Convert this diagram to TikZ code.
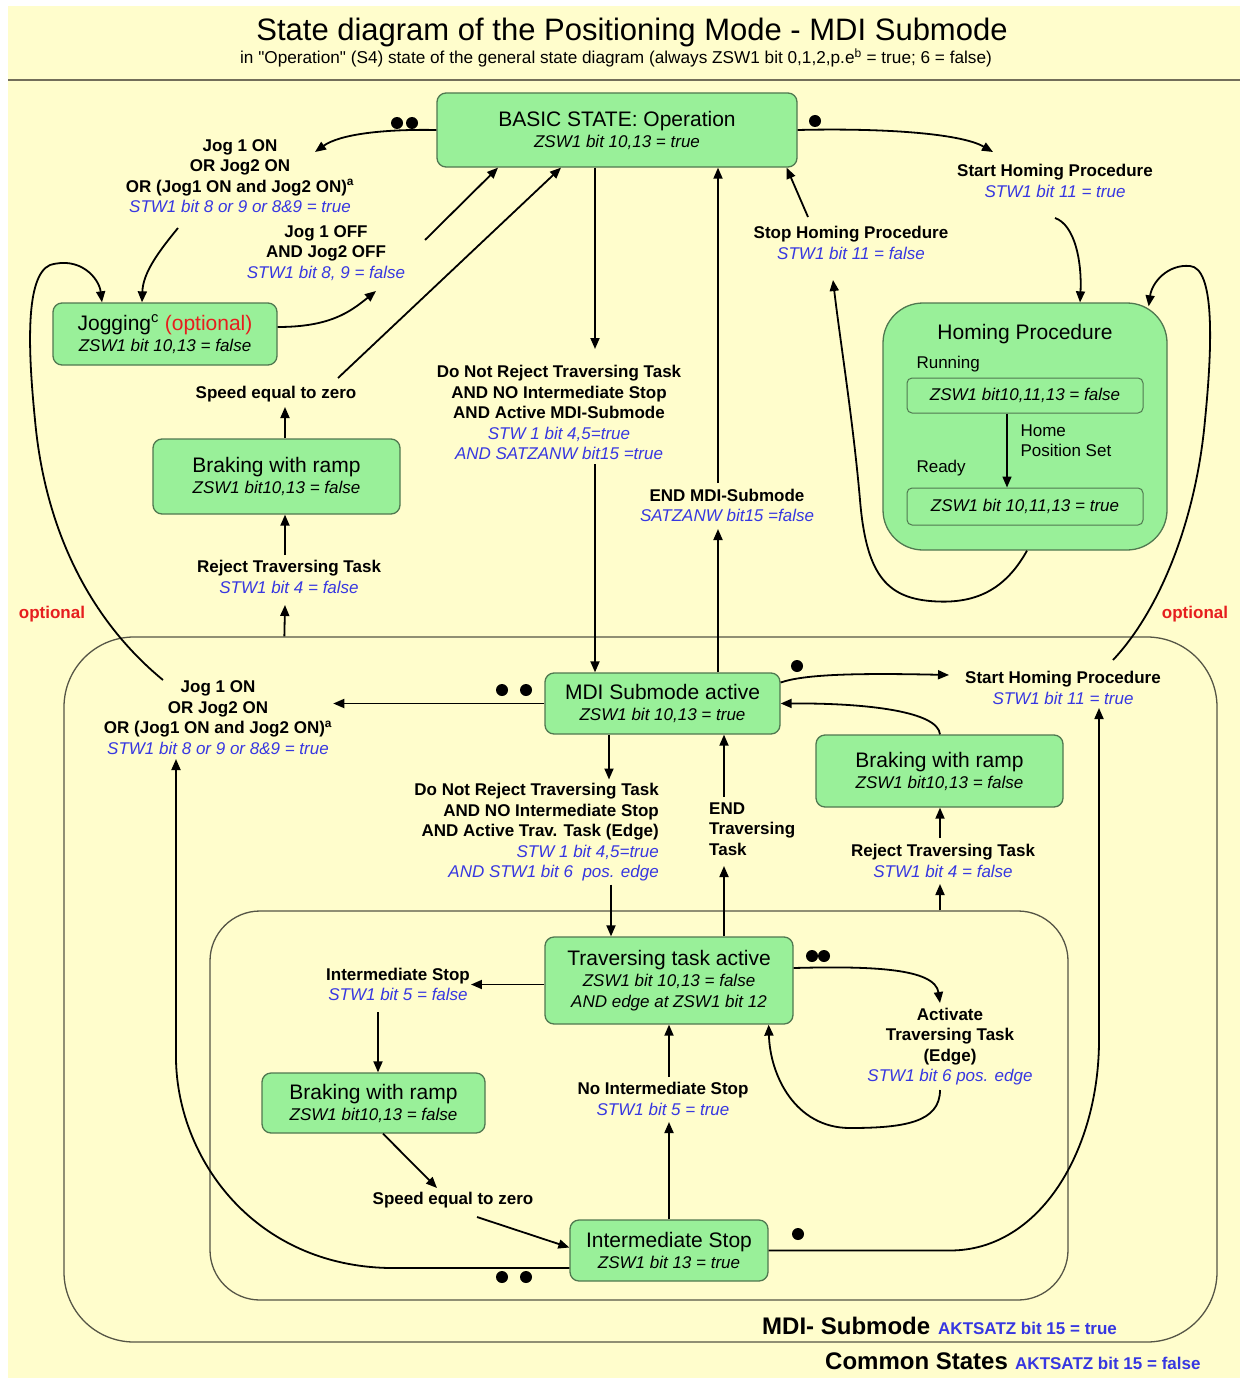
\documentclass[tikz,border=0pt]{standalone}
\usepackage{fontspec}
\setmainfont{Liberation Sans}
\usetikzlibrary{calc,arrows.meta}
\definecolor{bgyellow}{RGB}{255,253,204}
\definecolor{boxgreen}{RGB}{153,240,153}
\definecolor{boxline}{RGB}{80,120,80}
\definecolor{tblue}{RGB}{55,55,225}
\definecolor{tred}{RGB}{230,30,30}
\definecolor{contline}{RGB}{85,85,70}
\newcommand{\boxsub}[1]{{\itshape\fontsize{17}{17}\selectfont #1}}
\newcommand{\bl}[1]{{\color{tblue}\mdseries\itshape #1}}
\begin{document}
\begin{tikzpicture}[x=1pt,y=-1pt,
  st/.style={draw=boxline, fill=boxgreen, line width=1.3pt, rounded corners=9pt, align=center, inner sep=0pt, font=\fontsize{21}{21}\selectfont},
  lbl/.style={align=center, inner sep=1pt, font=\bfseries\fontsize{17}{20.5}\selectfont},
  arr/.style={-{Triangle[length=11pt,width=9pt]}, line width=1.8pt},
  dot/.style={circle, fill=black, inner sep=0pt, minimum size=12pt},
  cont/.style={draw=contline, line width=1.3pt},
]
\fill[white] (0,0) rectangle (1243,1378);
\fill[bgyellow] (8,6) rectangle (1240,1378);
\useasboundingbox (0,0) rectangle (1243,1378);
\draw[line width=2.5pt, color={rgb,255:red,115;green,110;blue,90}] (8,80) -- (1240,80);

% title
\node[font=\fontsize{31}{31}\selectfont] (title) at (632,32) {State diagram of the Positioning Mode - MDI Submode};
\node[font=\fontsize{17.2}{18}\selectfont] (subtitle) at (616,58) {in \textquotedbl Operation\textquotedbl\ (S4) state of the general state diagram (always ZSW1 bit 0,1,2,p.e\textsuperscript{b} = true; 6 = false)};

% containers
\node[cont, rounded corners=70pt, minimum width=1153pt, minimum height=705pt] (outer) at (640.5,989.5) {};
\node[cont, rounded corners=50pt, minimum width=858pt, minimum height=389pt] (inner) at (639,1105.5) {};

% states
\node[st, minimum width=360pt, minimum height=74pt] (basic) at (617,130) {BASIC STATE: Operation\\\boxsub{ZSW1 bit 10,13 = true}};
\node[st, minimum width=224pt, minimum height=62pt] (jog) at (165,334) {Jogging\textsuperscript{c} \textcolor{tred}{(optional)}\\\boxsub{ZSW1 bit 10,13 = false}};
\node[st, minimum width=247pt, minimum height=75pt] (brake1) at (276.5,476.5) {Braking with ramp\\\boxsub{ZSW1 bit10,13 = false}};
\node[st, rounded corners=40pt, minimum width=284pt, minimum height=247pt] (homing) at (1025,426.5) {};
\node[font=\fontsize{21}{21}\selectfont] (homtitle) at (1025,334) {Homing Procedure};
\node[st, rounded corners=5pt, line width=1pt, minimum width=236pt, minimum height=35pt, font=\itshape\fontsize{17}{17}\selectfont] (run) at (1025,395.5) {ZSW1 bit10,11,13 = false};
\node[st, rounded corners=5pt, line width=1pt, minimum width=236pt, minimum height=37pt, font=\itshape\fontsize{17}{17}\selectfont] (ready) at (1025,506.5) {ZSW1 bit 10,11,13 = true};
\node[anchor=west, font=\fontsize{17}{17}\selectfont] (running) at (913,364) {Running};
\node[anchor=west, font=\fontsize{17}{17}\selectfont] (readylbl) at (913,468) {Ready};
\node[anchor=west, align=left, font=\fontsize{17}{20}\selectfont] (hps) at (1017,441) {Home\\Position Set};
\node[st, minimum width=235pt, minimum height=61pt] (mdi) at (662.5,703.5) {MDI Submode active\\\boxsub{ZSW1 bit 10,13 = true}};
\node[st, minimum width=247pt, minimum height=72pt] (brake2) at (939.5,771) {Braking with ramp\\\boxsub{ZSW1 bit10,13 = false}};
\node[st, minimum width=248pt, minimum height=87pt] (trav) at (669,980.5) {Traversing task active\\\boxsub{ZSW1 bit 10,13 = false}\\\boxsub{AND edge at ZSW1 bit 12}};
\node[st, minimum width=223pt, minimum height=60pt] (brake3) at (373.5,1103) {Braking with ramp\\\boxsub{ZSW1 bit10,13 = false}};
\node[st, minimum width=198pt, minimum height=61pt] (istop) at (669,1250.5) {Intermediate Stop\\\boxsub{ZSW1 bit 13 = true}};

% labels
\node[lbl] (jogon1) at (240,176) {Jog 1 ON\\OR Jog2 ON\\OR (Jog1 ON and Jog2 ON)\textsuperscript{a}\\\bl{STW1 bit 8 or 9 or 8\&9 = true}};
\node[lbl] (jogoff) at (326,253) {Jog 1 OFF\\AND Jog2 OFF\\\bl{STW1 bit 8, 9 = false}};
\node[lbl] (speed1) at (276,394) {Speed equal to zero};
\node[lbl] (reject1) at (289,577) {Reject Traversing Task\\\bl{STW1 bit 4 = false}};
\node[lbl] (dnr1) at (559,412.5) {Do Not Reject Traversing Task\\AND NO Intermediate Stop\\AND Active MDI-Submode\\\bl{STW 1 bit 4,5=true}\\\bl{AND SATZANW bit15 =true}};
\node[lbl] (endmdi) at (727,505.5) {END MDI-Submode\\\bl{SATZANW bit15 =false}};
\node[lbl] (stophom) at (851,243) {Stop Homing Procedure\\\bl{STW1 bit 11 = false}};
\node[lbl] (starthom1) at (1055,181) {Start Homing Procedure\\\bl{STW1 bit 11 = true}};
\node[lbl] (jogon2) at (218,717.5) {Jog 1 ON\\OR Jog2 ON\\OR (Jog1 ON and Jog2 ON)\textsuperscript{a}\\\bl{STW1 bit 8 or 9 or 8\&9 = true}};
\node[lbl] (starthom2) at (1063,688) {Start Homing Procedure\\\bl{STW1 bit 11 = true}};
\node[lbl, align=right, anchor=east] (dnr2) at (660,832.5) {Do Not Reject Traversing Task\\AND NO Intermediate Stop\\AND Active Trav. Task (Edge)\\\bl{STW 1 bit 4,5=true}\\\bl{AND STW1 bit 6\ \ pos. edge}};
\node[lbl, align=left, anchor=west] (endtrav) at (708,829) {END\\Traversing\\Task};
\node[lbl] (reject2) at (943,861) {Reject Traversing Task\\\bl{STW1 bit 4 = false}};
\node[lbl] (interstop) at (398,984.5) {Intermediate Stop\\\bl{STW1 bit 5 = false}};
\node[lbl] (activate) at (950,1046.5) {Activate\\Traversing Task\\(Edge)\\\bl{STW1 bit 6 pos. edge}};
\node[lbl] (nointer) at (663,1099) {No Intermediate Stop\\\bl{STW1 bit 5 = true}};
\node[lbl] (speed2) at (453,1200) {Speed equal to zero};
\node[lbl, text=tred] (opt1) at (52,614) {optional};
\node[lbl, text=tred] (opt2) at (1195,614) {optional};

\node[anchor=base west, inner sep=0pt, font=\bfseries\fontsize{24}{24}\selectfont] (mdisub) at (762,1334) {MDI- Submode};
\node[anchor=base west, inner sep=0pt, text=tblue, font=\bfseries\fontsize{17}{17}\selectfont] (akt1) at (938,1334) {AKTSATZ bit 15 = true};
\node[anchor=base west, inner sep=0pt, font=\bfseries\fontsize{24}{24}\selectfont] (common) at (825,1369) {Common States};
\node[anchor=base west, inner sep=0pt, text=tblue, font=\bfseries\fontsize{17}{17}\selectfont] (akt2) at (1015,1369) {AKTSATZ bit 15 = false};

% connectors
\draw[arr] (basic.west) .. controls (385,129) and (340,134) .. ($(jogon1)+(75,-24)$);
\draw[arr] ($(jogon1)+(-62,52)$) .. controls (160,250) and (143,272) .. ($(jog.north)+(-23,0)$);
\draw[arr] ($(jog.east)+(0,-7)$) .. controls (330,327) and (350,312) .. ($(jogoff)+(50,38)$);
\draw[arr] ($(jogoff)+(99,-13)$) -- ($(basic.south)+(-119,0)$);
\draw[arr] ($(speed1)+(62,-16)$) -- ($(basic.south)+(-56,0)$);
\draw[arr] ($(basic.south)+(-22,0)$) -- ($(dnr1)+(36,-63.5)$);
\draw[arr] ($(dnr1)+(36,51.5)$) -- ($(mdi.north)+(-67.5,0)$);
\draw[arr] ($(mdi.north)+(55.5,0)$) -- ($(endmdi)+(-9,23.5)$);
\draw[arr] ($(endmdi)+(-9,-22.5)$) -- ($(basic.south)+(101,0)$);
\draw[arr] ($(stophom)+(-43,-26)$) -- ($(basic.south east)+(-11,0)$);
\draw[arr] (basic.east) .. controls (880,128) and (960,133) .. ($(starthom1)+(-62,-29)$);
\draw[arr] ($(starthom1)+(0,37)$) .. controls (1075,225) and (1082,262) .. ($(homing.north)+(55,0)$);
\draw[arr, line width=1.5pt] ($(run.south)+(-18,0)$) -- ($(ready.north)+(-18,0)$);
\draw[arr] ($(homing.south)+(2,0)$) .. controls (1005,590) and (975,605) .. (930,601) .. controls (885,597) and (866,572) .. (860,500) .. controls (853,420) and (840,340) .. ($(stophom)+(-18,37)$);
\draw[arr] ($(starthom2)+(50,-28)$) .. controls (1160,610) and (1196,520) .. (1205,420) .. controls (1213,340) and (1214,268) .. (1190,266) .. controls (1168,264) and (1152,282) .. ($(homing.north east)+(-19,4)$);
\draw[arr] ($(jogon2)+(-55,-37.5)$) .. controls (90,620) and (45,530) .. (35,420) .. controls (28,350) and (25,276) .. (50,265) .. controls (80,256) and (99,278) .. ($(jog.north)+(-63,0)$);
\draw[arr] (mdi.west) -- (mdi.west -| jogon2.east);
\draw[arr] ($(outer.north west)+(221,0)$) -- ($(reject1)+(-4,28)$);
\draw[arr] ($(reject1)+(-4,-22)$) -- ($(brake1.south)+(8.5,0)$);
\draw[arr] ($(brake1.north)+(8.5,0)$) -- ($(speed1)+(9,13)$);
\draw[arr] ($(mdi.south)+(-53.5,0)$) -- ($(dnr2.east)+(-51,-53)$);
\draw[arr] ($(dnr2.east)+(-49,52)$) -- ($(trav.north)+(-58,0)$);
\draw[arr] ($(trav.north)+(55,0)$) -- ($(endtrav.west)+(16,37)$);
\draw[arr] ($(endtrav.west)+(16,-32)$) -- ($(mdi.south)+(61.5,0)$);
\draw[arr] ($(brake2.north)+(0.5,0)$) .. controls (938,712) and (870,703) .. (mdi.east);
\draw[arr] ($(mdi.east)+(0,-21)$) .. controls (805,674) and (860,673) .. ($(starthom2)+(-114,-13)$);
\draw[arr] ($(inner.north)+(301,0)$) -- ($(reject2)+(-3,23)$);
\draw[arr] ($(reject2)+(-3,-23)$) -- ($(brake2.south)+(0.5,0)$);
\draw[arr] (istop.east) -- (950,1250.5) .. controls (1040,1250.5) and (1099,1150) .. (1099,1040) -- ($(starthom2)+(36,20)$);
\draw[arr] ($(trav.east)+(0,-12.5)$) .. controls (870,966) and (935,968) .. ($(activate)+(-10,-43.5)$);
\draw[arr] ($(activate)+(-10,43.5)$) .. controls (940,1122) and (905,1128) .. (850,1128) .. controls (795,1128) and (770,1075) .. ($(trav.south east)+(-25,0)$);
\draw[arr] ($(trav.west)+(0,4)$) -- ($(trav.west -| interstop.east)+(0,4)$);
\draw[arr] ($(interstop)+(-20,27.5)$) -- ($(brake3.north)+(4.5,0)$);
\draw[arr] ($(brake3.south)+(9.5,0)$) -- ($(speed2)+(-16,-12)$);
\draw[arr] ($(speed2)+(24,17)$) -- ($(istop.west)+(0,-3)$);
\draw[arr] (istop.north) -- ($(nointer)+(6,23)$);
\draw[arr] ($(nointer)+(6,-22)$) -- (trav.south);
\draw[arr] ($(istop.west)+(0,17.5)$) -- (390,1268) .. controls (255,1266) and (178,1160) .. (176,1060) -- ($(jogon2)+(-42,41.5)$);

% dots
\node[dot] (d1) at (397,123) {};
\node[dot] (d2) at (412,123) {};
\node[dot] (d3) at (815,121) {};
\node[dot] (d4) at (502,690) {};
\node[dot] (d5) at (526,690) {};
\node[dot] (d6) at (797,666) {};
\node[dot] (d7) at (812,956) {};
\node[dot] (d8) at (824,956) {};
\node[dot] (d9) at (502,1277) {};
\node[dot] (d10) at (526,1277) {};
\node[dot] (d11) at (798,1234) {};
\end{tikzpicture}
\end{document}
